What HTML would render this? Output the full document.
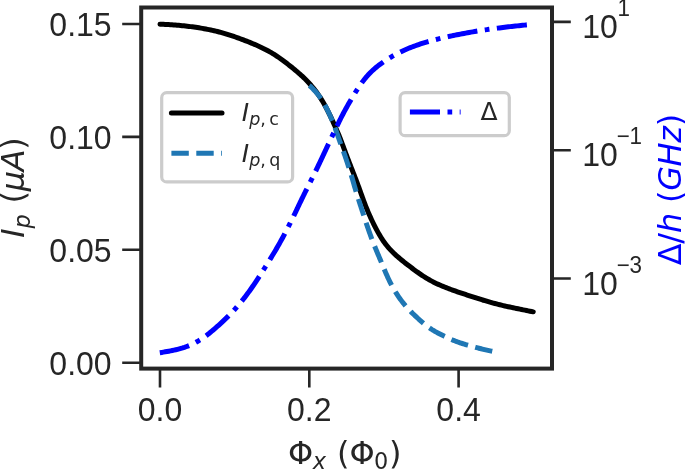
<!DOCTYPE html>
<html><head><meta charset="utf-8"><title>Persistent current and gap vs flux</title>
<style>html,body{margin:0;padding:0;background:#fff;}svg{display:block;}</style></head>
<body><svg width="685" height="469" viewBox="0 0 685 469"><defs><clipPath id="ax"><rect x="141.2" y="7.5" width="410.8" height="361.1"/></clipPath></defs><g clip-path="url(#ax)" fill="none" stroke-width="5.00"><path d="M160.00 24.17 L161.72 24.25 L163.42 24.34 L165.13 24.43 L166.83 24.52 L168.54 24.61 L170.24 24.72 L171.95 24.82 L173.65 24.94 L175.35 25.06 L177.05 25.20 L178.75 25.34 L180.45 25.49 L182.15 25.65 L183.85 25.82 L185.55 26.01 L187.24 26.20 L188.94 26.40 L190.63 26.62 L192.32 26.84 L194.01 27.07 L195.70 27.32 L197.39 27.57 L199.08 27.84 L200.76 28.11 L202.45 28.40 L204.13 28.70 L205.80 29.01 L207.48 29.34 L209.15 29.67 L210.82 30.02 L212.49 30.38 L214.15 30.76 L215.81 31.15 L217.47 31.55 L219.12 31.97 L220.77 32.41 L222.42 32.86 L224.06 33.33 L225.69 33.81 L227.33 34.31 L228.95 34.82 L230.58 35.34 L232.20 35.88 L233.81 36.43 L235.43 37.00 L237.04 37.57 L238.64 38.15 L240.25 38.74 L241.85 39.33 L243.45 39.93 L245.05 40.54 L246.64 41.16 L248.23 41.79 L249.82 42.42 L251.40 43.06 L252.98 43.72 L254.55 44.39 L256.12 45.06 L257.68 45.75 L259.23 46.46 L260.78 47.18 L262.31 47.91 L263.84 48.66 L265.36 49.43 L266.87 50.22 L268.36 51.03 L269.84 51.86 L271.31 52.71 L272.77 53.58 L274.22 54.48 L275.65 55.39 L277.07 56.33 L278.48 57.28 L279.88 58.25 L281.26 59.24 L282.64 60.24 L284.01 61.26 L285.37 62.28 L286.73 63.32 L288.08 64.36 L289.43 65.42 L290.77 66.48 L292.10 67.55 L293.43 68.63 L294.75 69.71 L296.06 70.81 L297.36 71.92 L298.65 73.03 L299.93 74.16 L301.20 75.30 L302.46 76.46 L303.69 77.63 L304.92 78.82 L306.12 80.03 L307.31 81.25 L308.47 82.49 L309.62 83.75 L310.75 85.02 L311.86 86.31 L312.95 87.62 L314.02 88.94 L315.07 90.28 L316.10 91.63 L317.11 93.00 L318.10 94.39 L319.06 95.79 L320.01 97.20 L320.93 98.63 L321.83 100.08 L322.71 101.54 L323.57 103.00 L324.41 104.49 L325.24 105.98 L326.05 107.48 L326.84 108.99 L327.62 110.51 L328.38 112.03 L329.14 113.57 L329.88 115.10 L330.61 116.65 L331.34 118.19 L332.06 119.74 L332.77 121.30 L333.48 122.85 L334.18 124.40 L334.88 125.96 L335.58 127.52 L336.27 129.08 L336.95 130.64 L337.63 132.20 L338.29 133.77 L338.95 135.34 L339.59 136.92 L340.22 138.50 L340.83 140.08 L341.44 141.67 L342.04 143.26 L342.63 144.85 L343.22 146.44 L343.81 148.04 L344.39 149.63 L344.98 151.22 L345.57 152.81 L346.16 154.40 L346.76 155.99 L347.37 157.57 L347.98 159.15 L348.60 160.73 L349.21 162.31 L349.83 163.89 L350.44 165.48 L351.06 167.06 L351.67 168.64 L352.29 170.22 L352.91 171.80 L353.53 173.39 L354.14 174.97 L354.76 176.55 L355.38 178.14 L355.99 179.72 L356.59 181.31 L357.19 182.90 L357.78 184.50 L358.37 186.09 L358.96 187.69 L359.54 189.30 L360.11 190.90 L360.69 192.50 L361.26 194.11 L361.84 195.71 L362.42 197.32 L363.00 198.92 L363.59 200.52 L364.19 202.12 L364.79 203.72 L365.40 205.31 L366.03 206.90 L366.66 208.49 L367.31 210.07 L367.97 211.64 L368.64 213.22 L369.33 214.78 L370.03 216.34 L370.74 217.90 L371.46 219.45 L372.19 220.99 L372.93 222.53 L373.68 224.07 L374.45 225.60 L375.22 227.12 L376.01 228.64 L376.81 230.15 L377.62 231.64 L378.45 233.13 L379.30 234.61 L380.16 236.07 L381.05 237.52 L381.96 238.94 L382.90 240.35 L383.87 241.74 L384.86 243.11 L385.89 244.45 L386.94 245.77 L388.02 247.07 L389.12 248.35 L390.26 249.60 L391.42 250.83 L392.62 252.03 L393.83 253.21 L395.06 254.38 L396.32 255.53 L397.59 256.66 L398.88 257.77 L400.18 258.88 L401.50 259.97 L402.82 261.05 L404.15 262.12 L405.50 263.18 L406.85 264.23 L408.20 265.28 L409.56 266.32 L410.93 267.35 L412.30 268.37 L413.67 269.39 L415.05 270.40 L416.43 271.41 L417.81 272.40 L419.21 273.39 L420.61 274.36 L422.02 275.31 L423.44 276.24 L424.87 277.15 L426.32 278.05 L427.77 278.92 L429.24 279.77 L430.73 280.59 L432.22 281.39 L433.73 282.17 L435.25 282.92 L436.78 283.66 L438.33 284.37 L439.88 285.07 L441.44 285.74 L443.01 286.40 L444.59 287.05 L446.17 287.68 L447.76 288.29 L449.36 288.90 L450.96 289.49 L452.57 290.08 L454.18 290.65 L455.79 291.22 L457.40 291.77 L459.02 292.33 L460.64 292.87 L462.26 293.41 L463.89 293.95 L465.51 294.49 L467.13 295.02 L468.76 295.55 L470.38 296.08 L472.01 296.61 L473.63 297.14 L475.26 297.67 L476.88 298.19 L478.51 298.71 L480.14 299.23 L481.77 299.73 L483.40 300.24 L485.03 300.73 L486.67 301.22 L488.30 301.70 L489.94 302.17 L491.59 302.63 L493.23 303.08 L494.88 303.51 L496.53 303.94 L498.18 304.36 L499.84 304.77 L501.50 305.17 L503.16 305.57 L504.82 305.95 L506.49 306.33 L508.15 306.70 L509.82 307.06 L511.49 307.42 L513.16 307.78 L514.83 308.13 L516.50 308.47 L518.17 308.82 L519.85 309.16 L521.52 309.50 L523.19 309.83 L524.87 310.17 L526.54 310.51 L528.22 310.84 L529.89 311.18 L531.57 311.51 L533.25 311.84" stroke="#000000" stroke-linecap="round" stroke-linejoin="round"/><path d="M309.20 85.61 L310.45 86.40 L311.27 87.21 L312.09 88.01 L312.89 88.82 L313.69 89.64 L314.48 90.47 L315.26 91.31 L316.02 92.17 L316.76 93.03 L317.49 93.91 L318.21 94.81 L318.90 95.71 L319.58 96.64 L320.25 97.57 L320.90 98.52 L321.53 99.48 L322.15 100.45 L322.76 101.42 L323.35 102.41 L323.94 103.41 L324.51 104.41 L325.07 105.42 L325.62 106.44 L326.17 107.46 L326.70 108.49 L327.23 109.53 L327.74 110.56 L328.25 111.61 L328.74 112.65 L329.23 113.71 L329.71 114.76 L330.19 115.82 L330.65 116.88 L331.11 117.95 L331.57 119.01 L332.01 120.08 L332.45 121.15 L332.89 122.23 L333.31 123.31 L333.74 124.38 L334.15 125.47 L334.56 126.55 L334.96 127.64 L335.36 128.72 L335.75 129.81 L336.14 130.90 L336.53 132.00 L336.91 133.09 L337.29 134.18 L337.67 135.28 L338.05 136.37 L338.44 137.46 L338.82 138.55 L339.20 139.65 L339.59 140.74 L339.98 141.83 L340.38 142.91 L340.77 144.00 L341.17 145.09 L341.56 146.18 L341.96 147.27 L342.35 148.36 L342.74 149.44 L343.14 150.53 L343.53 151.62 L343.91 152.71 L344.30 153.81 L344.68 154.90 L345.06 155.99 L345.43 157.09 L345.80 158.19 L346.17 159.28 L346.53 160.38 L346.89 161.48 L347.25 162.58 L347.61 163.68 L347.97 164.78 L348.32 165.89 L348.68 166.99 L349.03 168.09 L349.39 169.19 L349.74 170.30 L350.09 171.40 L350.43 172.51 L350.77 173.61 L351.12 174.72 L351.45 175.83 L351.79 176.93 L352.12 178.04 L352.45 179.15 L352.77 180.26 L353.10 181.38 L353.42 182.49 L353.74 183.60 L354.06 184.71 L354.38 185.83 L354.70 186.94 L355.03 188.05 L355.35 189.16 L355.68 190.27 L356.02 191.38 L356.35 192.48 L356.69 193.59 L357.04 194.70 L357.38 195.80 L357.73 196.91 L358.08 198.01 L358.43 199.11 L358.79 200.22 L359.14 201.32 L359.50 202.42 L359.85 203.52 L360.21 204.62 L360.57 205.72 L360.92 206.83 L361.28 207.93 L361.64 209.03 L362.00 210.13 L362.35 211.23 L362.71 212.34 L363.07 213.44 L363.43 214.54 L363.79 215.64 L364.15 216.74 L364.51 217.84 L364.87 218.94 L365.23 220.04 L365.59 221.14 L365.96 222.24 L366.33 223.34 L366.69 224.44 L367.06 225.54 L367.43 226.63 L367.81 227.73 L368.18 228.82 L368.56 229.92 L368.94 231.01 L369.33 232.10 L369.72 233.19 L370.11 234.28 L370.50 235.37 L370.90 236.46 L371.30 237.55 L371.71 238.63 L372.12 239.71 L372.53 240.79 L372.95 241.87 L373.37 242.95 L373.79 244.03 L374.22 245.11 L374.65 246.18 L375.08 247.25 L375.52 248.33 L375.96 249.40 L376.40 250.47 L376.85 251.54 L377.29 252.61 L377.74 253.68 L378.19 254.74 L378.64 255.81 L379.09 256.88 L379.54 257.95 L379.98 259.01 L380.43 260.08 L380.88 261.15 L381.32 262.22 L381.76 263.29 L382.21 264.37 L382.65 265.44 L383.09 266.51 L383.54 267.58 L383.99 268.65 L384.44 269.71 L384.89 270.78 L385.34 271.85 L385.80 272.91 L386.26 273.97 L386.73 275.04 L387.20 276.09 L387.67 277.15 L388.16 278.20 L388.65 279.25 L389.14 280.30 L389.65 281.34 L390.16 282.38 L390.68 283.41 L391.21 284.44 L391.75 285.46 L392.30 286.48 L392.86 287.50 L393.43 288.50 L394.01 289.51 L394.60 290.50 L395.19 291.49 L395.80 292.48 L396.42 293.46 L397.05 294.43 L397.68 295.40 L398.33 296.36 L398.98 297.31 L399.65 298.26 L400.32 299.20 L401.01 300.13 L401.70 301.06 L402.41 301.97 L403.12 302.88 L403.85 303.79 L404.58 304.68 L405.33 305.57 L406.08 306.45 L406.85 307.32 L407.62 308.18 L408.40 309.03 L409.19 309.88 L409.99 310.72 L410.79 311.55 L411.61 312.38 L412.43 313.20 L413.26 314.01 L414.09 314.82 L414.93 315.62 L415.77 316.41 L416.62 317.20 L417.48 317.98 L418.34 318.76 L419.20 319.54 L420.07 320.30 L420.94 321.07 L421.81 321.83 L422.69 322.58 L423.57 323.33 L424.46 324.07 L425.35 324.79 L426.26 325.51 L427.17 326.21 L428.09 326.90 L429.02 327.57 L429.97 328.23 L430.92 328.87 L431.88 329.50 L432.86 330.11 L433.84 330.71 L434.83 331.29 L435.83 331.87 L436.84 332.43 L437.86 332.98 L438.88 333.52 L439.90 334.05 L440.93 334.57 L441.97 335.09 L443.01 335.60 L444.05 336.10 L445.09 336.60 L446.14 337.10 L447.18 337.59 L448.23 338.08 L449.29 338.55 L450.34 339.02 L451.40 339.48 L452.47 339.93 L453.54 340.37 L454.61 340.80 L455.69 341.22 L456.77 341.62 L457.85 342.02 L458.94 342.40 L460.03 342.78 L461.13 343.14 L462.23 343.50 L463.33 343.84 L464.44 344.18 L465.54 344.52 L466.65 344.85 L467.76 345.17 L468.88 345.49 L469.99 345.82 L471.10 346.13 L472.21 346.45 L473.33 346.76 L474.45 347.06 L475.56 347.37 L476.68 347.66 L477.80 347.95 L478.92 348.24 L480.05 348.52 L481.17 348.80 L482.30 349.07 L483.42 349.34 L484.55 349.60 L485.68 349.86 L486.81 350.11 L487.94 350.36 L489.07 350.60 L490.21 350.84 L491.34 351.08 L492.47 351.31 L493.61 351.55 L494.74 351.78 L495.90 352.01" stroke="#1f77b4" stroke-dasharray="17.5 7.5" stroke-linejoin="round"/><path d="M159.80 352.69 L161.68 352.41 L163.45 352.12 L165.22 351.82 L166.99 351.52 L168.76 351.20 L170.52 350.87 L172.28 350.52 L174.03 350.15 L175.78 349.76 L177.52 349.34 L179.25 348.89 L180.96 348.41 L182.67 347.90 L184.36 347.35 L186.04 346.76 L187.70 346.14 L189.35 345.47 L190.98 344.76 L192.59 344.02 L194.18 343.23 L195.75 342.40 L197.30 341.54 L198.83 340.64 L200.35 339.70 L201.84 338.73 L203.32 337.73 L204.78 336.70 L206.22 335.64 L207.65 334.55 L209.06 333.45 L210.46 332.32 L211.84 331.18 L213.22 330.02 L214.58 328.85 L215.94 327.67 L217.28 326.48 L218.62 325.28 L219.95 324.07 L221.28 322.85 L222.59 321.63 L223.90 320.39 L225.20 319.15 L226.49 317.91 L227.77 316.65 L229.04 315.38 L230.29 314.10 L231.54 312.81 L232.77 311.51 L233.99 310.20 L235.19 308.87 L236.38 307.54 L237.56 306.18 L238.72 304.82 L239.87 303.45 L241.00 302.07 L242.13 300.67 L243.24 299.27 L244.34 297.86 L245.43 296.44 L246.51 295.01 L247.58 293.57 L248.64 292.13 L249.69 290.68 L250.73 289.22 L251.76 287.75 L252.78 286.28 L253.79 284.80 L254.79 283.31 L255.79 281.82 L256.77 280.33 L257.76 278.83 L258.73 277.32 L259.70 275.82 L260.67 274.31 L261.64 272.80 L262.60 271.29 L263.56 269.77 L264.51 268.25 L265.46 266.73 L266.41 265.21 L267.36 263.69 L268.30 262.17 L269.24 260.64 L270.18 259.12 L271.12 257.59 L272.05 256.06 L272.98 254.53 L273.91 252.99 L274.83 251.45 L275.74 249.91 L276.64 248.37 L277.54 246.82 L278.43 245.27 L279.32 243.71 L280.19 242.15 L281.06 240.58 L281.92 239.01 L282.77 237.44 L283.62 235.86 L284.46 234.28 L285.29 232.69 L286.11 231.11 L286.93 229.51 L287.75 227.92 L288.56 226.33 L289.37 224.73 L290.18 223.13 L290.98 221.53 L291.78 219.93 L292.57 218.32 L293.36 216.72 L294.14 215.11 L294.92 213.49 L295.69 211.88 L296.46 210.26 L297.23 208.64 L298.00 207.02 L298.76 205.40 L299.53 203.79 L300.30 202.17 L301.08 200.55 L301.85 198.94 L302.64 197.33 L303.42 195.72 L304.21 194.11 L305.01 192.50 L305.80 190.90 L306.60 189.29 L307.40 187.69 L308.21 186.09 L309.01 184.49 L309.82 182.89 L310.62 181.29 L311.43 179.68 L312.23 178.08 L313.03 176.48 L313.83 174.87 L314.62 173.27 L315.41 171.66 L316.19 170.05 L316.97 168.43 L317.74 166.81 L318.51 165.20 L319.28 163.58 L320.04 161.96 L320.81 160.33 L321.57 158.71 L322.33 157.09 L323.09 155.47 L323.85 153.84 L324.61 152.22 L325.37 150.60 L326.13 148.97 L326.89 147.35 L327.65 145.73 L328.41 144.10 L329.18 142.48 L329.94 140.86 L330.70 139.24 L331.47 137.62 L332.23 136.00 L333.00 134.38 L333.77 132.76 L334.54 131.14 L335.32 129.52 L336.09 127.91 L336.87 126.29 L337.65 124.68 L338.43 123.07 L339.22 121.46 L340.01 119.86 L340.81 118.25 L341.62 116.66 L342.43 115.06 L343.26 113.48 L344.10 111.90 L344.95 110.32 L345.82 108.75 L346.69 107.19 L347.57 105.63 L348.46 104.07 L349.36 102.52 L350.26 100.97 L351.16 99.42 L352.07 97.87 L352.99 96.33 L353.91 94.79 L354.85 93.25 L355.79 91.73 L356.75 90.21 L357.72 88.71 L358.71 87.21 L359.71 85.73 L360.73 84.26 L361.77 82.81 L362.84 81.37 L363.92 79.96 L365.03 78.56 L366.17 77.20 L367.33 75.85 L368.52 74.53 L369.75 73.24 L371.00 71.98 L372.28 70.76 L373.59 69.55 L374.93 68.38 L376.29 67.24 L377.68 66.12 L379.09 65.03 L380.53 63.96 L381.98 62.91 L383.44 61.89 L384.93 60.89 L386.43 59.90 L387.94 58.94 L389.46 58.00 L391.00 57.08 L392.55 56.17 L394.12 55.29 L395.69 54.43 L397.28 53.59 L398.87 52.77 L400.48 51.98 L402.10 51.20 L403.72 50.45 L405.36 49.72 L407.01 49.01 L408.66 48.31 L410.32 47.64 L411.99 46.99 L413.67 46.35 L415.35 45.73 L417.04 45.13 L418.73 44.54 L420.43 43.97 L422.14 43.42 L423.85 42.88 L425.57 42.36 L427.29 41.85 L429.01 41.36 L430.74 40.88 L432.47 40.41 L434.20 39.95 L435.94 39.51 L437.68 39.07 L439.42 38.64 L441.17 38.22 L442.91 37.81 L444.66 37.40 L446.41 37.01 L448.16 36.62 L449.91 36.24 L451.66 35.86 L453.42 35.49 L455.18 35.13 L456.93 34.78 L458.69 34.43 L460.45 34.09 L462.21 33.75 L463.98 33.42 L465.74 33.10 L467.50 32.78 L469.27 32.46 L471.03 32.15 L472.80 31.85 L474.57 31.55 L476.34 31.26 L478.11 30.97 L479.88 30.69 L481.65 30.41 L483.42 30.13 L485.19 29.87 L486.96 29.60 L488.74 29.34 L490.51 29.09 L492.29 28.84 L494.06 28.60 L495.84 28.36 L497.62 28.13 L499.39 27.90 L501.17 27.68 L502.95 27.46 L504.73 27.25 L506.51 27.04 L508.29 26.84 L510.07 26.64 L511.86 26.44 L513.64 26.25 L515.42 26.06 L517.20 25.87 L518.98 25.68 L520.77 25.49 L522.55 25.31 L524.33 25.12 L526.12 24.94 L527.90 24.75 L529.68 24.57 L531.47 24.38 L533.25 24.20" stroke="#0000ff" stroke-dasharray="30.2 7.5 4.7 7.5" stroke-linejoin="round"/></g><rect x="141.2" y="7.5" width="410.8" height="361.1" fill="none" stroke="#262626" stroke-width="4" stroke-linejoin="miter"/><path d="M122.2 24.0 L141.2 24.0 M122.2 136.9 L141.2 136.9 M122.2 249.8 L141.2 249.8 M122.2 362.8 L141.2 362.8 M160.0 368.6 L160.0 387.6 M309.3 368.6 L309.3 387.6 M458.6 368.6 L458.6 387.6 M552 21.9 L570.8 21.9 M552 150.2 L570.8 150.2 M552 278.5 L570.8 278.5" stroke="#262626" stroke-width="2.6" fill="none"/><g fill="#262626" font-family="'Liberation Sans', Arial, sans-serif" font-size="32"><text transform="translate(111.60 36.00) scale(1 1.03)" text-anchor="end">0.15</text><text transform="translate(111.60 148.90) scale(1 1.03)" text-anchor="end">0.10</text><text transform="translate(111.60 261.80) scale(1 1.03)" text-anchor="end">0.05</text><text transform="translate(111.60 374.80) scale(1 1.03)" text-anchor="end">0.00</text><text transform="translate(160.00 421.00) scale(1 1.03)" text-anchor="middle">0.0</text><text transform="translate(309.30 421.00) scale(1 1.03)" text-anchor="middle">0.2</text><text transform="translate(458.60 421.00) scale(1 1.03)" text-anchor="middle">0.4</text><text transform="translate(582.20 37.90) scale(1 1.03)">10</text><text transform="translate(617.40 16.10) scale(1 1.03)" font-size="22.4">1</text><text transform="translate(582.20 166.20) scale(1 1.03)">10</text><text transform="translate(616.70 144.40) scale(1 1.03)" font-size="22.4">−</text><text transform="translate(629.60 144.40) scale(1 1.03)" font-size="22.4">1</text><text transform="translate(582.20 294.50) scale(1 1.03)">10</text><text transform="translate(616.70 272.70) scale(1 1.03)" font-size="22.4">−</text><text transform="translate(629.60 272.70) scale(1 1.03)" font-size="22.4">3</text></g><g fill="#262626" font-family="'DejaVu Sans', sans-serif" font-size="32"><text x="287.9" y="463.6">Φ</text><text x="312.8" y="469.0" font-size="22.4" font-style="italic">x</text><text x="337.05" y="463.6">(</text><text x="349.5" y="463.6">Φ</text><text x="373.9" y="469.0" font-size="22.4">0</text><text x="388.9" y="463.6">)</text></g><g fill="#262626" font-family="'DejaVu Sans', sans-serif" font-size="32" transform="translate(24.2 237.8) rotate(-90)"><text x="0" y="0" font-style="italic">I</text><text x="9.26" y="5.3" font-size="22.4" font-style="italic">p</text><text x="34.26" y="0">(</text><text x="46.51" y="0" font-style="italic">μ</text><text x="66.48" y="0" font-style="italic">A</text><text x="87.96" y="0">)</text></g><g fill="#0000ff" font-family="'DejaVu Sans', sans-serif" font-size="32" transform="translate(680.9 265.15) rotate(-90)"><text x="0.00" y="0">Δ</text><text x="21.47" y="0">/</text><text x="32.05" y="0" font-style="italic">h</text><text x="62.14" y="0">(</text><text x="74.39" y="0" font-style="italic">G</text><text x="98.71" y="0" font-style="italic">H</text><text x="122.32" y="0" font-style="italic">z</text><text x="138.79" y="0">)</text></g><rect x="161.7" y="92.7" width="130.9" height="89.2" rx="5" ry="5" fill="#ffffff" fill-opacity="0.8" stroke="#cccccc" stroke-width="3.2"/><path d="M171.4 113 L222 113" stroke="#000" stroke-width="5.0" stroke-linecap="round"/><path d="M171.4 153.2 L222 153.2" stroke="#1f77b4" stroke-width="5.0" stroke-dasharray="17.4 7.5"/><g fill="#262626" font-family="'DejaVu Sans', sans-serif" font-size="25"><text x="241.8" y="120.8" font-style="italic">I</text><text x="249.2" y="125.2" font-size="17.5" font-style="italic">p</text><text x="260.3" y="125.2" font-size="17.5">,</text><text x="269.25" y="125.2" font-size="17.5">c</text></g><g fill="#262626" font-family="'DejaVu Sans', sans-serif" font-size="25"><text x="241.8" y="161.5" font-style="italic">I</text><text x="249.2" y="165.9" font-size="17.5" font-style="italic">p</text><text x="260.3" y="165.9" font-size="17.5">,</text><text x="269.25" y="165.9" font-size="17.5">q</text></g><rect x="400.1" y="92.6" width="109.2" height="43.1" rx="5" ry="5" fill="#ffffff" fill-opacity="0.8" stroke="#cccccc" stroke-width="3.2"/><path d="M409.9 111.9 L460.6 111.9" stroke="#0000ff" stroke-width="5.0" stroke-dasharray="30.1 7.5 4.7 7.5"/><text x="480.5" y="120.2" font-family="'DejaVu Sans', sans-serif" font-size="25" fill="#262626">Δ</text></svg></body></html>
